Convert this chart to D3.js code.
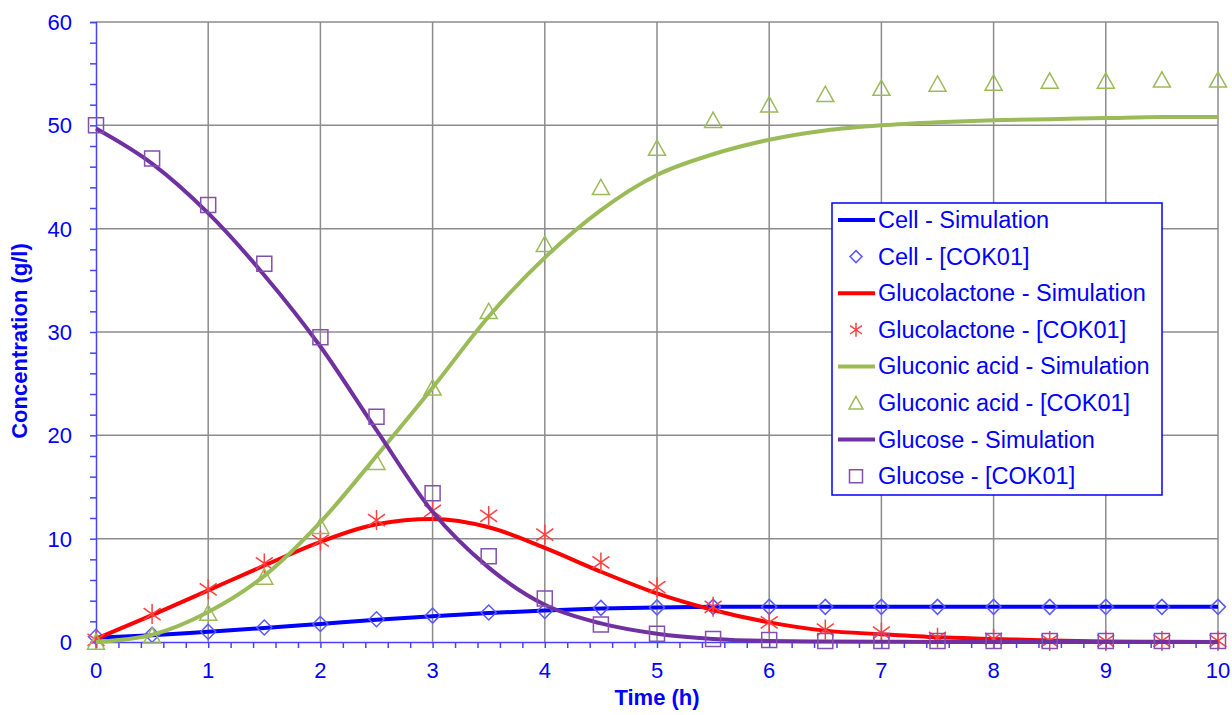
<!DOCTYPE html>
<html>
<head>
<meta charset="utf-8">
<script src="https://cdn.jsdelivr.net/npm/d3@7"></script>
<style>
  html, body { margin: 0; padding: 0; background: #fff; }
  text { font-family: Arial, "Liberation Sans", sans-serif; }
</style>
</head>
<body>
<div id="chart"></div>
<script>
// Time points (h), shared by simulation and measured series
const times = d3.range(0, 10.01, 0.5);

const cellSim        = [0.4, 0.65, 1.0, 1.35, 1.75, 2.15, 2.5, 2.8, 3.05, 3.25, 3.35, 3.4, 3.4, 3.4, 3.4, 3.4, 3.4, 3.4, 3.4, 3.4, 3.4];
const cellData       = [0.5, 0.7, 1.0, 1.4, 1.75, 2.2, 2.55, 2.85, 3.0, 3.3, 3.35, 3.4, 3.4, 3.4, 3.4, 3.4, 3.4, 3.4, 3.4, 3.4, 3.4];
const lactoneSim     = [0.3, 2.6, 5.0, 7.4, 9.7, 11.4, 11.9, 11.1, 9.1, 6.8, 4.7, 3.1, 1.9, 1.1, 0.75, 0.45, 0.3, 0.15, 0.05, 0.02, 0];
const lactoneData    = [0.2, 2.7, 5.1, 7.6, 9.8, 11.8, 12.7, 12.2, 10.4, 7.7, 5.3, 3.4, 1.9, 1.2, 0.9, 0.4, 0.3, 0.1, 0.1, 0.1, 0.1];
const gluconicSim    = [0, 0.7, 2.9, 6.4, 11.6, 18.0, 24.6, 31.5, 37.2, 41.8, 45.2, 47.2, 48.6, 49.5, 50.0, 50.3, 50.5, 50.6, 50.7, 50.8, 50.8];
const gluconicData   = [0, 0.6, 2.8, 6.3, 11.2, 17.4, 24.6, 32.0, 38.5, 44.0, 47.8, 50.5, 52.0, 53.0, 53.6, 54.0, 54.1, 54.3, 54.3, 54.4, 54.4];
const glucoseSim     = [49.7, 46.3, 41.5, 35.5, 28.6, 20.5, 12.6, 7.2, 3.6, 1.8, 0.8, 0.3, 0.1, 0.05, 0.02, 0, 0, 0, 0, 0, 0];
const glucoseData    = [50.0, 46.8, 42.3, 36.6, 29.5, 21.8, 14.4, 8.3, 4.2, 1.7, 0.8, 0.3, 0.2, 0.1, 0.1, 0.1, 0.1, 0.1, 0.1, 0.1, 0.1];

const xTicks = d3.range(0, 11);
const yTicks = d3.range(0, 61, 10);

// custom marker shapes
const diamond = { draw(c, s) { const r = Math.sqrt(s) / 2; c.moveTo(0, -r); c.lineTo(r, 0); c.lineTo(0, r); c.lineTo(-r, 0); c.closePath(); } };
const star = { draw(c, s) { const r = Math.sqrt(s) / 2, a = r * 0.85, b = r * 0.6;
  c.moveTo(0, -r); c.lineTo(0, r); c.moveTo(-a, -b); c.lineTo(a, b); c.moveTo(-a, b); c.lineTo(a, -b); } };
const tri = { draw(c, s) { const r = Math.sqrt(s) / 2; c.moveTo(0, -r * 0.95); c.lineTo(r, r * 0.85); c.lineTo(-r, r * 0.85); c.closePath(); } };
const square = { draw(c, s) { const r = Math.sqrt(s) / 2; c.rect(-r, -r, 2 * r, 2 * r); } };

const series = [
  { name: "Cell - Simulation", type: "line", values: cellSim, color: "#0000ff" },
  { name: "Cell - [COK01]", type: "mark", values: cellData, color: "#5a5aff", shape: diamond, size: 15, lsize: 12 },
  { name: "Glucolactone - Simulation", type: "line", values: lactoneSim, color: "#ff0000" },
  { name: "Glucolactone - [COK01]", type: "mark", values: lactoneData, color: "#ff4040", shape: star, size: 20, lsize: 14 },
  { name: "Gluconic acid - Simulation", type: "line", values: gluconicSim, color: "#9bbb59" },
  { name: "Gluconic acid - [COK01]", type: "mark", values: gluconicData, color: "#9bbb59", shape: tri, size: 17, lsize: 14 },
  { name: "Glucose - Simulation", type: "line", values: glucoseSim, color: "#7030a0" },
  { name: "Glucose - [COK01]", type: "mark", values: glucoseData, color: "#8350b0", shape: square, size: 15, lsize: 13 }
];

const W = 1232, H = 715;
const m = { top: 22, right: 14, bottom: 73, left: 96 };
const svg = d3.select("#chart").append("svg").attr("width", W).attr("height", H);

const x = d3.scaleLinear().domain([0, 10]).range([m.left, W - m.right]);
const y = d3.scaleLinear().domain([0, 60]).range([H - m.bottom, m.top]);
const axisBlue = "#4444ff", textBlue = "#0000ff";

// grid
const grid = svg.append("g").attr("stroke", "#8c8c8c").attr("stroke-width", 1.5);
grid.selectAll("line.v").data(xTicks.slice(1)).join("line")
  .attr("x1", d => x(d)).attr("x2", d => x(d)).attr("y1", y(0)).attr("y2", y(60));
grid.selectAll("line.h").data(yTicks.slice(1)).join("line")
  .attr("x1", x(0)).attr("x2", x(10)).attr("y1", d => y(d)).attr("y2", d => y(d));

// axes
const xAxis = svg.append("g").attr("transform", `translate(0,${y(0)})`)
  .call(d3.axisBottom(x).tickValues(d3.range(0, 10.01, 0.2)).tickSize(6).tickFormat(""));
const yAxis = svg.append("g").attr("transform", `translate(${x(0)},0)`)
  .call(d3.axisLeft(y).tickValues(d3.range(0, 61, 2)).tickSize(6).tickFormat(""));
[xAxis, yAxis].forEach(a => {
  a.select(".domain").attr("stroke", axisBlue).attr("stroke-width", 1.5);
  a.selectAll(".tick line").attr("stroke", axisBlue).attr("stroke-width", 1.5);
});

svg.append("g").selectAll("text").data(xTicks).join("text")
  .attr("x", d => x(d)).attr("y", y(0) + 36).attr("text-anchor", "middle")
  .attr("font-size", 22).attr("fill", textBlue).text(d => d);
svg.append("g").selectAll("text").data(yTicks).join("text")
  .attr("x", 72).attr("y", d => y(d) + 8).attr("text-anchor", "end")
  .attr("font-size", 22).attr("fill", textBlue).text(d => d);

svg.append("text").attr("x", x(5)).attr("y", 705).attr("text-anchor", "middle")
  .attr("font-size", 22).attr("font-weight", "bold").attr("fill", textBlue).text("Time (h)");
svg.append("text").attr("transform", `translate(27,${341}) rotate(-90)`).attr("text-anchor", "middle")
  .attr("font-size", 22).attr("font-weight", "bold").attr("fill", textBlue).text("Concentration (g/l)");

// data
const line = d3.line().x((d, i) => x(times[i])).y(d => y(d)).curve(d3.curveMonotoneX);
series.forEach(s => {
  if (s.type === "line") {
    svg.append("path").attr("d", line(s.values)).attr("fill", "none")
      .attr("stroke", s.color).attr("stroke-width", 4).attr("stroke-linejoin", "round");
  } else {
    svg.append("g").selectAll("path").data(s.values).join("path")
      .attr("transform", (d, i) => `translate(${x(times[i])},${y(d)})`)
      .attr("d", d3.symbol(s.shape, s.size * s.size))
      .attr("fill", "none").attr("stroke", s.color).attr("stroke-width", 1.5);
  }
});

// legend
const lg = svg.append("g").attr("transform", "translate(832,203)");
lg.append("rect").attr("width", 330).attr("height", 292).attr("fill", "#fff")
  .attr("stroke", "#0000ff").attr("stroke-width", 1.5);
const rows = lg.selectAll("g.row").data(series).join("g")
  .attr("transform", (d, i) => `translate(0,${17 + i * 36.6})`);
rows.filter(d => d.type === "line").append("line")
  .attr("x1", 6).attr("x2", 43).attr("stroke", d => d.color).attr("stroke-width", 4);
rows.filter(d => d.type === "mark").append("path")
  .attr("transform", "translate(24,0)")
  .attr("d", d => d3.symbol(d.shape, d.lsize * d.lsize)())
  .attr("fill", "none").attr("stroke", d => d.color).attr("stroke-width", 1.5);
rows.append("text").attr("x", 46).attr("y", 8).attr("font-size", 23.5)
  .attr("fill", textBlue).text(d => d.name);
</script>
</body>
</html>
